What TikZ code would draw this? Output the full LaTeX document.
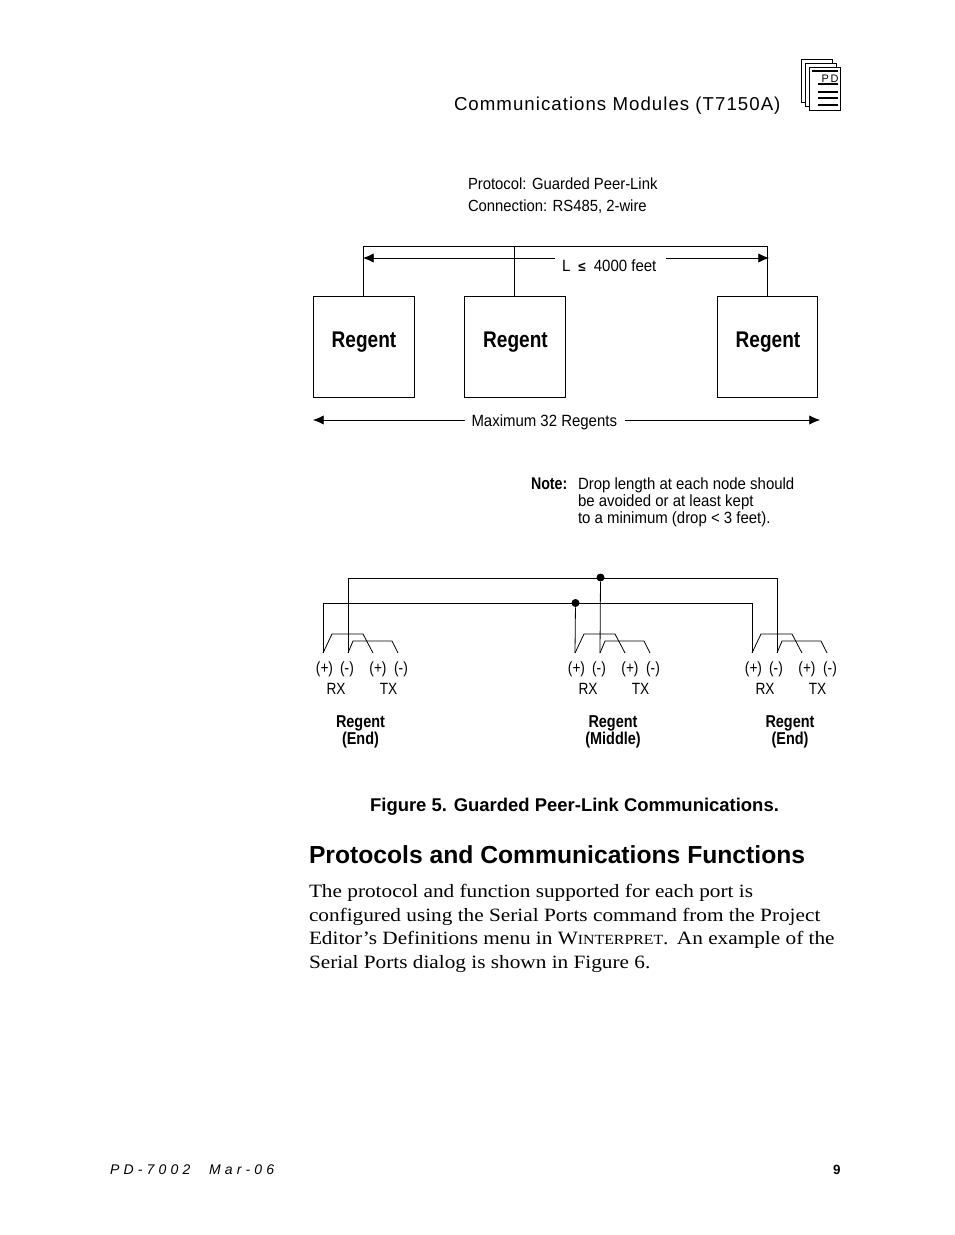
\documentclass[tikz,border=0pt]{standalone}
\usepackage{fontspec}
\setmainfont{Liberation Serif}
\newfontfamily\bodyf[FakeStretch=1.131]{Liberation Serif}
\newfontfamily\narrow[FakeStretch=0.84]{Liberation Sans}
\newfontfamily\wider[FakeStretch=0.92]{Liberation Sans}
\newfontfamily\headf[LetterSpace=5.5]{Liberation Sans}
\newfontfamily\capf{Liberation Sans}
\newfontfamily\footf[LetterSpace=30]{Liberation Sans}
\usetikzlibrary{arrows.meta}
\tikzset{
  x=0.75pt,y=-0.75pt,
  txt/.style={inner sep=0pt,outer sep=0pt,anchor=base west},
  ctr/.style={inner sep=0pt,outer sep=0pt,anchor=base},
  wire/.style={draw=black,line width=0.6pt},
  regentbox/.style={draw=black,line width=0.6pt,minimum width=75.5pt,minimum height=76pt,inner sep=0pt,outer sep=0pt},
  regentlabel/.style={font=\narrow\bfseries\fontsize{17}{17}\selectfont},
  dim/.style={draw=black,line width=0.6pt,-{Latex[length=8pt,width=7pt]}},
  joint/.style={circle,fill=black,inner sep=0pt,minimum size=6pt},
  diag/.style={ctr,font=\narrow\fontsize{12.2}{12.2}\selectfont},
  diagl/.style={txt,font=\wider\fontsize{12.2}{12.2}\selectfont},
  diagb/.style={ctr,font=\narrow\bfseries\fontsize{12.9}{12.9}\selectfont},
  body/.style={txt,font=\bodyf\fontsize{14.1}{14.1}\selectfont},
  pagesheet/.style={draw=black,line width=0.5pt,fill=white},
}
\newcommand{\portset}[4]{%
  \begin{scope}[shift={(#2,0)}]
    \coordinate (#1a) at (323,653);
    \coordinate (#1b) at (348,653);
    \coordinate (#1c) at (373,653);
    \coordinate (#1d) at (398,653);
    \coordinate (#1a1) at (332,634);
    \coordinate (#1c1) at (363,634);
    \coordinate (#1b1) at (353,641);
    \coordinate (#1d1) at (392,641);
    \draw[wire] (#1a) -- (#1a1) -- (#1c1) -- (#1c);
    \draw[wire] (#1b) -- (#1b1) -- (#1d1) -- (#1d);
    \node[diag] (#1p1) at (324.5,673) {(+)};
    \node[diag] (#1m1) at (347,673) {(-)};
    \node[diag] (#1p2) at (378,673) {(+)};
    \node[diag] (#1m2) at (401,673) {(-)};
    \node[diag] (#1rx) at (336,694) {RX};
    \node[diag] (#1tx) at (388.5,694) {TX};
    \node[diagb] (#1r) at (#4,727) {Regent};
    \node[diagb] (#1e) at (#4,744) {#3};
  \end{scope}}
\begin{document}
\begin{tikzpicture}
\useasboundingbox (0,0) rectangle (954,1235);
\fill[white] (0,0) rectangle (954,1235);

% page icon
\draw[pagesheet] (801,59) rectangle (832,102);
\draw[pagesheet] (805,63) rectangle (836,106);
\draw[pagesheet] (809,67) rectangle (840,110);
\coordinate (ic1) at (812,71); \coordinate (ic2) at (838,71);
\draw[line width=0.8pt] (ic1) -- (ic2);
\node[ctr,font=\capf\fontsize{8.2}{8.2}\selectfont] (icpd) at (830,82) {P\,D};
\foreach \y in {84,92,98,105}{\draw[line width=0.9pt] (818,\y) -- (838,\y);}

\node[txt,font=\headf\fontsize{14}{14}\selectfont] (head) at (454,110.5) {Communications Modules (T7150A)};

\node[diagl,font=\wider\fontsize{12.1}{12.1}\selectfont] (proto) at (468,189) {Protocol: Guarded Peer-Link};
\node[diagl,font=\wider\fontsize{12.1}{12.1}\selectfont] (conn) at (468,211) {Connection: RS485, 2-wire};

% upper diagram
\node[regentbox,anchor=north west] (r1) at (313.5,296.5) {};
\node[regentbox,anchor=north west] (r2) at (464.5,296.5) {};
\node[regentbox,anchor=north west] (r3) at (717,296.5) {};
\node[ctr,regentlabel] (r1t) at (364,347) {Regent};
\node[ctr,regentlabel] (r2t) at (515.5,347) {Regent};
\node[ctr,regentlabel] (r3t) at (768,347) {Regent};
\coordinate (busl) at (r1.north |- 0,246.5);
\coordinate (busm) at (r2.north |- 0,246.5);
\coordinate (busr) at (r3.north |- 0,246.5);
\draw[wire] (r1.north) -- (busl) -- (busr) -- (r3.north);
\draw[wire] (r2.north) -- (busm);

\node[diagl] (ltxt) at (562,271) {L\,\,\,{\capf\bfseries\fontsize{10}{10}\selectfont ≤}\,\,\,4000 feet};
\coordinate (la) at (555,258); \coordinate (lb) at (363,258);
\coordinate (lc) at (666,258); \coordinate (ld) at (769,258);
\draw[dim] (la) -- (lb);
\draw[dim] (lc) -- (ld);

\node[diagl] (maxt) at (471.5,426) {Maximum 32 Regents};
\coordinate (ma) at (465,420); \coordinate (mb) at (313,420);
\coordinate (mc) at (625,420); \coordinate (md) at (820,420);
\draw[dim] (ma) -- (mb);
\draw[dim] (mc) -- (md);

% note
\node[txt,font=\narrow\bfseries\fontsize{12.7}{12.7}\selectfont] (noteh) at (531,489) {Note:};
\node[diagl] (n1) at (578,489) {Drop length at each node should};
\node[diagl] (n2) at (578,506) {be avoided or at least kept};
\node[diagl] (n3) at (578,523) {to a minimum (drop < 3 feet).};

% wiring diagram
\portset{A}{0}{(End)}{360.5}
\portset{B}{252}{(Middle)}{361}
\portset{C}{429}{(End)}{361}
\node[joint] (j1) at (600.5,577.5) {};
\node[joint] (j2) at (575.5,603) {};
\coordinate (t1) at (348,578); \coordinate (t2) at (777,578);
\coordinate (u1) at (323,603); \coordinate (u2) at (752,603);
\draw[wire] (Ab) -- (t1) -- (t2) -- (Cb);
\draw[wire] (Aa) -- (u1) -- (u2) -- (Ca);
\draw[wire] (j1) -- (Bb);
\draw[wire] (j2) -- (Ba);

\node[ctr,font=\capf\bfseries\fontsize{13.84}{13.84}\selectfont] (fig) at (574.5,811) {Figure 5. Guarded Peer-Link Communications.};
\node[txt,font=\capf\bfseries\fontsize{18.5}{18.5}\selectfont] (sec) at (309,863) {Protocols and Communications Functions};

\node[body] (b1) at (309,897) {The protocol and function supported for each port is};
\node[body] (b2) at (309,921) {configured using the Serial Ports command from the Project};
\node[body] (b3) at (309,944) {Editor’s Definitions menu in W{\fontsize{10.5}{10.5}\selectfont INTERPRET}.\, An example of the};
\node[body] (b4) at (309,968) {Serial Ports dialog is shown in Figure 6.};

\node[txt,font=\footf\itshape\fontsize{10.5}{10.5}\selectfont] (foot) at (110,1174) {PD-7002\hspace{14pt}Mar-06};
\node[txt,font=\capf\bfseries\fontsize{10}{10}\selectfont] (pg) at (833,1174) {9};
\end{tikzpicture}
\end{document}
